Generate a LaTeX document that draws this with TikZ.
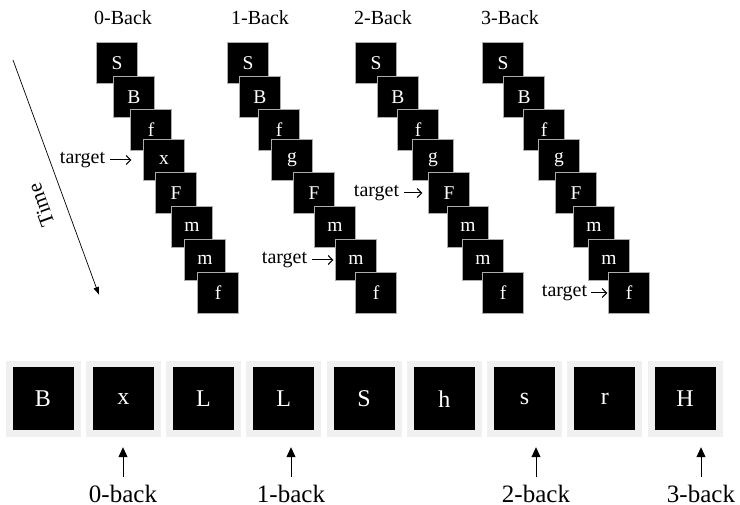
\documentclass[tikz,border=0pt]{standalone}
\usepackage{fontspec}
\setmainfont{Liberation Serif}
\usetikzlibrary{arrows.meta,positioning}

\tikzset{
  card/.style={fill=black,draw=gray!65,line width=0.8pt,text=white,minimum size=40.5pt,inner sep=0pt,font=\fontsize{19.5}{19.5}\selectfont},
  slot/.style={fill=black!6,minimum width=75pt,minimum height=76pt,inner sep=0pt},
  tile/.style={fill=black,minimum width=61pt,minimum height=63pt,inner sep=0pt,text=white,font=\fontsize{24}{24}\selectfont},
  head/.style={inner sep=0pt,font=\fontsize{20}{20}\selectfont},
  tgt/.style={inner sep=0pt,font=\fontsize{20}{20}\selectfont},
  blab/.style={inner sep=0pt,font=\fontsize{25}{25}\selectfont},
  tarr/.style={-{Straight Barb[length=4.5pt,width=9pt]},line width=1pt,shorten <=5pt},
  uarr/.style={-{Triangle[length=10pt,width=9pt]},line width=0.9pt}
}

\begin{document}
\begin{tikzpicture}[x=1pt,y=-1pt]
    \useasboundingbox (0,0) rectangle (740,505);

    \node[head] (h0) at (123,18) {0-Back};
    \node[head] (h1) at (260,18) {1-Back};
    \node[head] (h2) at (383,18) {2-Back};
    \node[head] (h3) at (510,18) {3-Back};

    \foreach \s/\row in {0/{117/S,134/B,151/f,164/x,176/F,192/m,205/m,218/f},
                         1/{248/S,260/B,279/f,292/g,314/F,335/m,356/m,376/f},
                         2/{376/S,398/B,418/f,433/g,449/F,468/m,483/m,503/f},
                         3/{503/S,524/B,544/f,559/g,576/F,594/m,609/m,629/f}}
      \foreach \xx/\ch [count=\i] in \row {
        \pgfmathsetmacro\yy{{63,97,130,160,193,227,260,293}[\i-1]}
        \node[card] (st\s-\i) at (\xx,\yy) {\ch};
      }

    \node[tgt, left=38pt of st0-4] (t0) {target};
    \node[tgt, left=28pt of st1-7] (t1) {target};
    \node[tgt, left=29pt of st2-5] (t2) {target};
    \node[tgt, left=21pt of st3-8] (t3) {target};
    \draw[tarr, shorten >=12pt] (t0) -- (st0-4);
    \draw[tarr, shorten >=2pt] (t1) -- (st1-7);
    \draw[tarr, shorten >=6pt] (t2) -- (st2-5);
    \draw[tarr, shorten <=4pt, shorten >=1pt] (t3) -- (st3-8);

    \coordinate (ts) at (13,60);
    \coordinate (te) at (99,295);
    \draw[-{Latex[length=8pt,width=6pt]}, line width=0.7pt] (ts) -- (te);
    \node[rotate=110, font=\fontsize{21}{21}\selectfont] (time) at (41,205) {Time};

    \foreach \ch [count=\k] in {B,x,L,L,S,h,s,r,H} {
      \node[slot] (sl\k) at ({43+80.25*(\k-1)},399) {};
      \node[tile] (ti\k) at (sl\k) {\ch};
    }

    \node[blab] (b0) at (123,494) {0-back};
    \node[blab] (b1) at (291,494) {1-back};
    \node[blab] (b2) at (536,494) {2-back};
    \node[blab] (b3) at (701,494) {3-back};
    \draw[uarr, shorten <=8pt, shorten >=10pt] (b0.north) -- (b0.north |- sl2.south);
    \draw[uarr, shorten <=8pt, shorten >=10pt] (b1.north) -- (b1.north |- sl4.south);
    \draw[uarr, shorten <=8pt, shorten >=10pt] (b2.north) -- (b2.north |- sl7.south);
    \draw[uarr, shorten <=8pt, shorten >=10pt] (b3.north) -- (b3.north |- sl9.south);
\end{tikzpicture}
\end{document}
